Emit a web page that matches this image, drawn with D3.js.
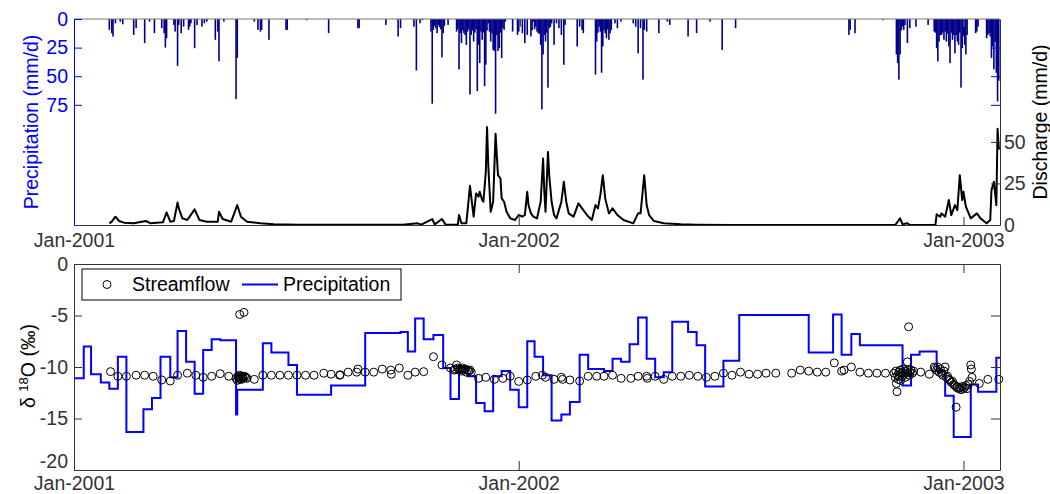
<!DOCTYPE html>
<html>
<head>
<meta charset="utf-8">
<script src="https://cdn.jsdelivr.net/npm/d3@7"></script>
<style>
body { margin: 0; background: #fff; }
</style>
</head>
<body>
<div id="chart"></div>
<script>
// all series are keyed by day number counted from 1 Jan 2001
var startDate = '2001-01-01';
var endDate = '2003-01-31';
var dateTicks = ['2001-01-01', '2002-01-01', '2003-01-01'];
var dateTickLabels = ['Jan-2001', 'Jan-2002', 'Jan-2003'];
var precipTicks = [0, 25, 50, 75];
var flowTicks = [0, 25, 50];
var isoTicks = [0, -5, -10, -15, -20];
var isoTickLabels = ['0', '-5', '-10', '-15', '-20'];
var legendLabels = ['Streamflow', 'Precipitation'];

// daily precipitation (mm/d)
var precipDay = [29,31,32,34,38,40,49,51,58,62,66,72,74,75,76,82,83,85,86,88,90,94,95,96,99,101,105,107,109,116,118,119,123,133,134,148,151,153,154,160,174,175,191,209,233,234,256,266,268,279,281,284,286,
  293,294,295,296,297,298,299,300,301,302,303,304,307,314,315,316,317,318,319,320,321,322,323,324,325,326,327,328,329,330,331,332,333,334,335,336,337,338,339,340,341,342,343,344,345,346,347,348,349,350,351,352,353,354,
  360,364,365,366,368,370,372,375,376,377,378,379,380,381,382,383,384,385,386,387,388,389,390,391,392,394,396,398,400,402,403,413,415,417,418,
  428,429,430,431,432,433,434,435,436,437,438,439,440,441,444,446,449,459,461,463,465,467,468,470,480,487,489,504,511,522,532,543,
  636,637,641,664,675,676,677,678,679,680,681,682,684,686,691,701,706,707,708,709,710,711,712,713,714,715,716,717,718,719,720,721,722,723,724,725,726,727,728,729,730,731,732,733,
  740,741,742,749,750,751,752,753,754,755,756,757,758,759];
var precipMm = [9.5,12.4,15.3,3.8,2.3,4.6,13.9,8,21,2.3,12.4,8,12.4,25,16.8,5.2,11,41,5.2,12.4,6.7,9.5,6.7,3.8,25.5,5.2,6.7,3.8,2.3,18.2,11,37,2.3,70,34,2.3,9.5,11,9.5,18.2,9.5,9.5,1,12.4,8,8,5.2,15.3,8,6.7,45,3.8,1,
  11,74,9.5,6,8,12.4,5.2,7,9,33.6,12.4,6,5.2,11,9,44,12.4,21,10,12.4,13.9,22.6,11,9,66,13.9,10,19.7,12,9,63,22.6,38.5,11,18.2,12,58.7,40,10,3.8,11,19.7,12.4,27,28,82.8,14,28,25.5,12,34,8,9.5,2.3,
  11,13.9,11,6.7,12.4,21,13.9,15.3,10,2.3,9,6.7,11,12.4,13,22.6,79,31,14,19.7,12,60,8,7,3.8,22.6,3.8,8,13.9,40,5.2,24,6.7,9.5,12.4,
  48.6,19.7,12,6.7,11,47,24,10,12.4,16.8,9,18.2,12.4,9.5,3.8,8,2.3,3.8,6.7,30,8,53,9.5,11,12.4,2.3,5.2,15.3,12.4,2.3,27,8,
  13.9,9.5,12.4,1,31,38.5,53,31,10,6.7,9.5,5.2,21,8,6.7,5.2,11,12,25.5,37,19.7,14,13.9,12,18.2,11,19.7,13,24,38.5,12,18.2,13.9,30,14,19.7,22.6,12,60,25.5,15,22.6,31,13.9,
  12.4,11,6.7,16.8,14,12.4,15.3,34,24,44,20,47,72,54];

// daily discharge (mm/d)
var flowDay = [29,31,34,37,41,49,59,63,73,76,79,82,85,86,89,93,99,103,109,118,119,122,129,134,137,142,153,164,185,270,282,285,294,296,302,305,315,316,318,322,325,327,328,330,332,333,335,336,338,339,340,342,344,346,347,348,350,351,353,355,358,362,365,368,370,372,373,375,377,380,383,385,386,387,389,390,392,394,396,400,402,404,406,410,414,417,421,425,428,430,432,434,436,439,442,446,451,459,463,465,468,470,472,476,484,498,511,540,674,678,680,684,686,707,708,711,712,715,718,720,723,725,727,729,730,732,736,741,744,749,752,753,755,757,758,759,760];
var flowMm = [1,2,5,2.4,1.4,1,2.4,1,1.6,7.6,2,2.4,13.6,10,4,3,9.4,3,2,2,8,3.6,2,12,5,2,1,0.4,0.1,0.2,1,0.2,3.6,0.4,3.6,0.2,0.2,6,1,1,23.6,11,5,19,17,20,15,14,32,59,36,8,14,55,42,30,28,16,14,8,4,3,6,5,6,20,12,7,5,4,14,40,20,8,44,30,14,6,4,14,26,14,7,5,13,10,6,3,12,10,18,30,16,7,10,6,3,1,7,7,30,12,6,2.4,1,0.4,0.2,0,0,4,0.4,1,0,0,6.4,5,7,5,15,6,12,9,30,15,20,11,4,7,4,1,3,21,26,12,58,46,46];

// delta 18O of precipitation, value holds from each day to the next
var isoPrecipDay = [0,8,14,22,29,36,43,57,64,71,79,85,92,99,106,113,120,133,134,155,162,176,183,211,239,268,274,280,287,295,303,309,316,323,330,337,344,351,358,365,372,378,385,392,400,407,415,422,435,442,449,456,463,470,477,484,491,504,511,518,533,546,603,623,630,638,645,680,687,694,708,715,722,736,742,757,760];
var isoPrecipVal = [-11.1,-8.0,-10.7,-11.5,-12.1,-9.0,-16.3,-14.1,-13.0,-9.0,-11.0,-6.5,-9.5,-12.6,-8.35,-7.3,-7.4,-14.6,-12.2,-7.7,-8.6,-9.8,-12.7,-11.8,-6.7,-6.6,-8.5,-5.3,-7.3,-6.9,-10.1,-13.1,-10.0,-10.9,-13.5,-14.3,-10.9,-10.4,-12.2,-13.9,-7.5,-9.0,-10.8,-15.2,-14.6,-13.4,-8.8,-10.2,-10.4,-9.2,-9.5,-7.8,-5.2,-9.2,-11.0,-10.5,-5.6,-6.6,-7.9,-11.9,-9.4,-4.95,-8.6,-4.9,-8.8,-6.8,-7.9,-11.8,-8.8,-8.5,-10.4,-12.8,-16.8,-11.7,-12.4,-9.1,-9.1];

// delta 18O of streamflow samples
var isoStreamDay = [30,36,43,51,58,65,72,79,85,93,100,106,113,120,127,133,134,134.5,135,135.5,136,136.5,137,137.5,138,138.5,139,140,141,142,136,139.5,148,155,162,169,176,183,190,197,205,211,218,218.5,225,232,233,239,246,253,260,260.5,267,274,280,287,295,302,309,312,313,314,315,316,317,318,319,320,321,322,323,324,325,326,332,338,345,352,358,365,372,379,384.5,387,394,400,401,407,415,422,429,435,442,449,457,463,470,470.5,477,484,491,498,505,512,519,526,533,540,547,554,561,568,576,589,596,603,610,617,624,630,632,638,645,652,659,666,673,674,674.5,675,675.5,676,676.5,677,677.5,678,678.5,679,680,680.5,681,682,682.5,683,684,684.5,685,685.5,686,687,688,689,695,702,706,707,708,709,710,711,712,713,714,715,716,717,718,719,720,721,722,723,724,724.5,725,726,727,728,729,730,731,732,733,734,735,736,736.5,737,743,750,759];
var isoStreamVal = [-10.45,-10.9,-10.9,-10.8,-10.8,-10.9,-11.26,-11.36,-10.8,-10.6,-10.8,-11.0,-10.9,-10.65,-10.9,-11.1,-11.3,-10.9,-11.0,-11.2,-10.8,-11.1,-11.0,-11.2,-10.9,-11.0,-11.1,-10.9,-11.0,-11.1,-4.9,-4.7,-11.2,-10.8,-10.8,-10.8,-10.8,-10.8,-10.8,-10.8,-10.6,-10.7,-10.8,-10.75,-10.5,-10.5,-10.2,-10.5,-10.5,-10.2,-10.3,-10.7,-10.1,-10.8,-10.5,-10.45,-9.0,-9.8,-10.1,-10.3,-10.2,-9.8,-10.1,-10.3,-10.2,-10.4,-10.1,-10.3,-10.2,-10.5,-10.3,-10.4,-10.3,-10.5,-11.1,-11.0,-11.2,-11.1,-10.9,-11.4,-11.26,-10.9,-10.8,-11.0,-11.2,-11.0,-11.2,-11.26,-11.36,-10.9,-10.9,-10.9,-10.8,-11.1,-11.1,-10.9,-10.9,-11.1,-10.9,-11.2,-10.9,-10.9,-10.8,-10.9,-11.0,-10.9,-10.6,-10.8,-10.5,-10.7,-10.7,-10.6,-10.6,-10.6,-10.3,-10.4,-10.5,-10.5,-9.6,-10.4,-10.3,-10.0,-10.5,-10.6,-10.6,-10.6,-10.6,-11.0,-10.4,-11.6,-12.4,-10.8,-11.2,-10.5,-10.9,-10.3,-11.3,-10.6,-10.9,-10.2,-10.7,-10.4,-11.0,-10.6,-9.5,-10.3,-6.1,-10.8,-10.5,-10.3,-10.6,-10.4,-10.5,-10.7,-10.0,-10.1,-10.3,-10.0,-10.5,-10.2,-10.6,-10.8,-10.4,-10.0,-11.0,-10.9,-11.2,-11.3,-11.5,-11.4,-11.7,-11.8,-13.9,-12.0,-11.9,-12.1,-12.0,-12.2,-11.9,-12.1,-12.0,-11.8,-12.1,-11.7,-11.4,-9.8,-10.2,-11.0,-11.6,-11.2,-11.2];

var W = 1050, H = 494;
var left = 74, right = 1000;
var top1 = 19, bottom1 = 225;
var top2 = 264, bottom2 = 470;
var fontFamily = 'Arial, "Liberation Sans", sans-serif';
var fontSize = 19.5;
var axisGrey = '#333';

var parseDate = d3.timeParse('%Y-%m-%d');
var t0 = parseDate(startDate);

function dayToDate(d) {
  return new Date(t0.getTime() + d * 864e5);
}

var svg = d3.select('#chart').append('svg')
  .attr('width', W)
  .attr('height', H)
  .style('font-family', fontFamily);

var x = d3.scaleTime()
  .domain([t0, parseDate(endDate)])
  .range([left, right]);

var yP = d3.scaleLinear().domain([0, 180]).range([top1, bottom1]);
var yQ = d3.scaleLinear().domain([0, 124]).range([bottom1, top1]);
var yI = d3.scaleLinear().domain([-20, 0]).range([bottom2, top2]);

var tickDates = dateTicks.map(parseDate);

function styleAxis(g, color) {
  g.attr('font-size', fontSize).attr('font-family', fontFamily);
  g.selectAll('path, line').attr('stroke', color).attr('stroke-width', 1);
  g.selectAll('text').attr('fill', color);
}

// ---------- top panel: precipitation bars and discharge ----------
var precipData = precipDay.map(function(d, i) { return { day: d, mm: precipMm[i] }; });
svg.append('g').selectAll('rect')
  .data(precipData)
  .enter().append('rect')
  .attr('x', function(d) { return x(dayToDate(d.day)) - 0.8; })
  .attr('y', yP(0))
  .attr('width', 1.6)
  .attr('height', function(d) { return yP(d.mm) - yP(0); })
  .attr('fill', '#00008b');

var flowData = flowDay.map(function(d, i) { return { day: d, q: flowMm[i] }; });
var flowLine = d3.line()
  .x(function(d) { return x(dayToDate(d.day)); })
  .y(function(d) { return yQ(d.q); });

svg.append('path')
  .datum(flowData)
  .attr('d', flowLine)
  .attr('fill', 'none')
  .attr('stroke', '#000')
  .attr('stroke-width', 2)
  .attr('stroke-linejoin', 'round');

// box top line
svg.append('line')
  .attr('x1', left).attr('x2', right)
  .attr('y1', top1).attr('y2', top1)
  .attr('stroke', '#777').attr('stroke-width', 1);

// x axis of top panel
var xAxisTop1 = svg.append('g')
  .attr('transform', 'translate(0,' + bottom1 + ')')
  .call(d3.axisBottom(x).tickValues(tickDates)
    .tickFormat(function(d, i) { return dateTickLabels[i]; })
    .tickSize(-8).tickSizeOuter(0).tickPadding(8));
styleAxis(xAxisTop1, axisGrey);

var xAxisTop1Mirror = svg.append('g')
  .attr('transform', 'translate(0,' + top1 + ')')
  .call(d3.axisTop(x).tickValues(tickDates.slice(1)).tickFormat('')
    .tickSize(-8).tickSizeOuter(0));
styleAxis(xAxisTop1Mirror, '#777');
xAxisTop1Mirror.select('.domain').remove();

// left precipitation axis (blue)
var pAxis = svg.append('g')
  .attr('transform', 'translate(' + left + ',0)')
  .call(d3.axisLeft(yP).tickValues(precipTicks)
    .tickSize(-8).tickSizeOuter(0).tickPadding(6));
styleAxis(pAxis, '#0000ff');

// mirrored precipitation ticks on the right
var pAxisMirror = svg.append('g')
  .attr('transform', 'translate(' + right + ',0)')
  .call(d3.axisRight(yP).tickValues(precipTicks.slice(1)).tickFormat('')
    .tickSize(-9).tickSizeOuter(0));
styleAxis(pAxisMirror, '#0000ff');
pAxisMirror.select('.domain').remove();

// right discharge axis (black)
var qAxis = svg.append('g')
  .attr('transform', 'translate(' + right + ',0)')
  .call(d3.axisRight(yQ).tickValues(flowTicks)
    .tickSize(-9).tickSizeOuter(0).tickPadding(4));
styleAxis(qAxis, axisGrey);

svg.append('text')
  .attr('transform', 'translate(31,122) rotate(-90)')
  .attr('dy', '0.35em')
  .attr('text-anchor', 'middle')
  .attr('font-size', fontSize)
  .attr('fill', '#0000ff')
  .text('Precipitation (mm/d)');

svg.append('text')
  .attr('transform', 'translate(1040,122) rotate(-90)')
  .attr('dy', '0.35em')
  .attr('text-anchor', 'middle')
  .attr('font-size', fontSize)
  .attr('fill', '#000')
  .text('Discharge (mm/d)');

// ---------- bottom panel: isotopes ----------
var isoPrecipData = isoPrecipDay.map(function(d, i) { return { day: d, v: isoPrecipVal[i] }; });
var stepLine = d3.line()
  .curve(d3.curveStepAfter)
  .x(function(d) { return x(dayToDate(d.day)); })
  .y(function(d) { return yI(d.v); });

svg.append('path')
  .datum(isoPrecipData)
  .attr('d', stepLine)
  .attr('fill', 'none')
  .attr('stroke', '#0000ff')
  .attr('stroke-width', 2);

var isoStreamData = isoStreamDay.map(function(d, i) { return { day: d, v: isoStreamVal[i] }; });
svg.append('g').selectAll('circle')
  .data(isoStreamData)
  .enter().append('circle')
  .attr('cx', function(d) { return x(dayToDate(d.day)); })
  .attr('cy', function(d) { return yI(d.v); })
  .attr('r', 4)
  .attr('fill', 'none')
  .attr('stroke', '#000')
  .attr('stroke-width', 1);

var xAxis2 = svg.append('g')
  .attr('transform', 'translate(0,' + bottom2 + ')')
  .call(d3.axisBottom(x).tickValues(tickDates)
    .tickFormat(function(d, i) { return dateTickLabels[i]; })
    .tickSize(-9).tickSizeOuter(0).tickPadding(6));
styleAxis(xAxis2, axisGrey);

var xAxis2Mirror = svg.append('g')
  .attr('transform', 'translate(0,' + top2 + ')')
  .call(d3.axisTop(x).tickValues(tickDates).tickFormat('')
    .tickSize(-9).tickSizeOuter(0));
styleAxis(xAxis2Mirror, axisGrey);

var yAxis2 = svg.append('g')
  .attr('transform', 'translate(' + left + ',0)')
  .call(d3.axisLeft(yI).tickValues(isoTicks)
    .tickFormat(function(d, i) { return isoTickLabels[i]; })
    .tickSize(-8).tickSizeOuter(0).tickPadding(6));
styleAxis(yAxis2, axisGrey);
// lift the lowest label so it clears the date label below it
yAxis2.selectAll('.tick text')
  .filter(function(d) { return d === -20; })
  .attr('y', -9);

var yAxis2Mirror = svg.append('g')
  .attr('transform', 'translate(' + right + ',0)')
  .call(d3.axisRight(yI).tickValues(isoTicks).tickFormat('')
    .tickSize(-9).tickSizeOuter(0));
styleAxis(yAxis2Mirror, axisGrey);

var isoLabel = svg.append('text')
  .attr('transform', 'translate(28,366) rotate(-90)')
  .attr('dy', '0.35em')
  .attr('text-anchor', 'middle')
  .attr('font-size', fontSize)
  .attr('fill', '#000');
isoLabel.append('tspan').text('\u03b4 ');
isoLabel.append('tspan').attr('font-size', 13).attr('dy', '-0.55em').text('18');
isoLabel.append('tspan').attr('dy', '0.4em').text('O (\u2030)');

// legend
var legend = svg.append('g');
legend.append('rect')
  .attr('x', 82).attr('y', 269)
  .attr('width', 319).attr('height', 31)
  .attr('fill', '#fff')
  .attr('stroke', '#000')
  .attr('stroke-width', 1);
legend.append('circle')
  .attr('cx', 107).attr('cy', 284.5).attr('r', 4)
  .attr('fill', 'none').attr('stroke', '#000');
legend.append('text')
  .attr('x', 132).attr('y', 291)
  .attr('font-size', fontSize)
  .text(legendLabels[0]);
legend.append('line')
  .attr('x1', 242).attr('x2', 278)
  .attr('y1', 284.5).attr('y2', 284.5)
  .attr('stroke', '#0000ff').attr('stroke-width', 2);
legend.append('text')
  .attr('x', 283).attr('y', 291)
  .attr('font-size', fontSize)
  .text(legendLabels[1]);
</script>
</body>
</html>
